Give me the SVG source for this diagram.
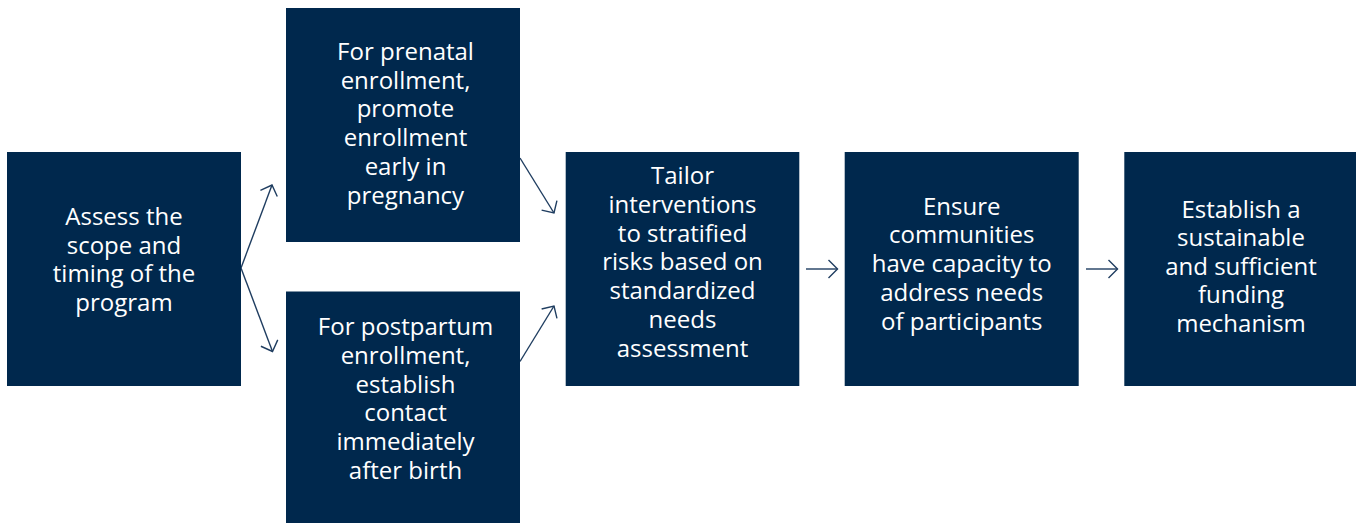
<svg xmlns="http://www.w3.org/2000/svg" width="1356" height="523" viewBox="0 0 1356 523">
  <style>
    .box { fill: #00284d; }
    .label { font-family: "Open Sans", "Noto Sans", "Liberation Sans", sans-serif; font-size: 24px; fill: #ffffff; text-anchor: middle; }
    .link { stroke: #1f3d60; stroke-width: 1.4; fill: none; marker-end: url(#chevron); }
  </style>
  <defs>
    <marker id="chevron" markerUnits="userSpaceOnUse" markerWidth="24" markerHeight="24" refX="0" refY="0" viewBox="-12 -12 24 24" orient="auto" overflow="visible">
      <path d="M -9 -9 L 0 0 L -9 9" fill="none" stroke="#1f3d60" stroke-width="1.4" stroke-linejoin="miter"/>
    </marker>
  </defs>
  <rect width="1356" height="523" fill="#ffffff"/>

  <g id="connectors">
    <line class="link" x1="241" y1="268" x2="272" y2="185"/>
    <line class="link" x1="241" y1="268" x2="272.5" y2="351.5"/>
    <line class="link" x1="520" y1="158" x2="554" y2="213"/>
    <line class="link" x1="520" y1="361.5" x2="554" y2="306"/>
    <line class="link" x1="806" y1="269" x2="837.5" y2="269"/>
    <line class="link" x1="1086" y1="269" x2="1117.5" y2="269"/>
  </g>

  <!-- each label is one text with tspans per line, written without gaps so no stray spaces shift the centring -->
  <g id="assess-scope">
    <rect class="box" x="7" y="152" width="234" height="234"/>
    <text class="label" y="225"><tspan x="124">Assess the</tspan><tspan x="124" dy="28.6">scope and</tspan><tspan x="124" dy="28.6">timing of the</tspan><tspan x="124" dy="28.6">program</tspan></text>
  </g>

  <g id="prenatal-enrollment">
    <rect class="box" x="286" y="8" width="234" height="234"/>
    <text class="label" y="60"><tspan x="405.5">For prenatal</tspan><tspan x="405.5" dy="28.7">enrollment,</tspan><tspan x="405.5" dy="28.7">promote</tspan><tspan x="405.5" dy="28.7">enrollment</tspan><tspan x="405.5" dy="28.7">early in</tspan><tspan x="405.5" dy="28.7">pregnancy</tspan></text>
  </g>

  <g id="postpartum-enrollment">
    <rect class="box" x="286" y="291.5" width="234" height="240"/>
    <text class="label" y="335"><tspan x="405.5">For postpartum</tspan><tspan x="405.5" dy="28.8">enrollment,</tspan><tspan x="405.5" dy="28.8">establish</tspan><tspan x="405.5" dy="28.8">contact</tspan><tspan x="405.5" dy="28.8">immediately</tspan><tspan x="405.5" dy="28.8">after birth</tspan></text>
  </g>

  <g id="tailor-interventions">
    <rect class="box" x="565.7" y="152" width="233.6" height="234"/>
    <text class="label" y="184"><tspan x="682.5">Tailor</tspan><tspan x="682.5" dy="28.8">interventions</tspan><tspan x="682.5" dy="28.8">to stratified</tspan><tspan x="682.5" dy="28.8">risks based on</tspan><tspan x="682.5" dy="28.8">standardized</tspan><tspan x="682.5" dy="28.8">needs</tspan><tspan x="682.5" dy="28.8">assessment</tspan></text>
  </g>

  <g id="community-capacity">
    <rect class="box" x="844.7" y="152" width="234" height="234"/>
    <text class="label" y="214.5"><tspan x="961.7">Ensure</tspan><tspan x="961.7" dy="28.75">communities</tspan><tspan x="961.7" dy="28.75">have capacity to</tspan><tspan x="961.7" dy="28.75">address needs</tspan><tspan x="961.7" dy="28.75">of participants</tspan></text>
  </g>

  <g id="funding-mechanism">
    <rect class="box" x="1124.3" y="152" width="234" height="234"/>
    <text class="label" y="217.5"><tspan x="1241">Establish a</tspan><tspan x="1241" dy="28.6">sustainable</tspan><tspan x="1241" dy="28.6">and sufficient</tspan><tspan x="1241" dy="28.6">funding</tspan><tspan x="1241" dy="28.6">mechanism</tspan></text>
  </g>
</svg>
